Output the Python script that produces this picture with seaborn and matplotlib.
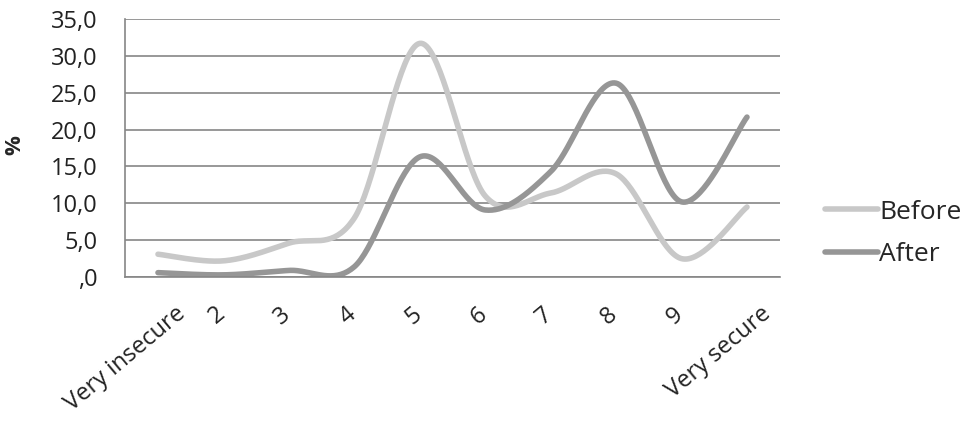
import matplotlib
matplotlib.use("Agg")
import matplotlib.pyplot as plt
import matplotlib.transforms as mtransforms
import numpy as np
import pandas as pd
import seaborn as sns

categories = ["Very insecure", "2", "3", "4", "5", "6", "7", "8", "9", "Very secure"]
before = [3.1, 2.2, 4.6, 8.0, 31.7, 11.0, 11.4, 14.0, 2.5, 9.5]
after = [0.6, 0.3, 0.9, 1.4, 16.3, 9.1, 14.3, 26.3, 10.2, 21.7]


def smooth(ys, n=40):
    # Excel-style smoothed line: bezier segments with catmull-rom tangents
    pts = np.column_stack([np.arange(len(ys)), ys]).astype(float)
    ext = np.vstack([pts[0], pts, pts[-1]])
    out = []
    for i in range(len(pts) - 1):
        p0, p1, p2, p3 = ext[i], ext[i + 1], ext[i + 2], ext[i + 3]
        c1 = p1 + (p2 - p0) / 6
        c2 = p2 - (p3 - p1) / 6
        t = np.linspace(0, 1, n)[:, None]
        seg = (1 - t) ** 3 * p1 + 3 * (1 - t) ** 2 * t * c1 + 3 * (1 - t) * t ** 2 * c2 + t ** 3 * p2
        out.append(seg if i == 0 else seg[1:])
    return np.vstack(out)


rows = []
for name, vals in [("Before", before), ("After", after)]:
    s = smooth(vals)
    rows.append(pd.DataFrame({"x": s[:, 0], "y": s[:, 1], "series": name}))
df = pd.concat(rows, ignore_index=True)

sns.set_style("white")
plt.rcParams["font.family"] = ["Open Sans", "DejaVu Sans"]

fig, ax = plt.subplots(figsize=(9.71, 4.23), dpi=100)
fig.subplots_adjust(left=0.129, right=0.803, top=0.955, bottom=0.345)

ax.set_axisbelow(True)
ax.yaxis.grid(True, color="#868686", linewidth=1.2)
sns.lineplot(data=df, x="x", y="y", hue="series", sort=False, estimator=None,
             palette={"Before": "#c8c8c8", "After": "#969696"},
             linewidth=4, solid_capstyle="round", ax=ax)

ax.set_xlim(-0.5, 9.5)
ax.set_ylim(0, 35)
ax.set_yticks(np.arange(0, 36, 5))
ax.set_yticklabels([f"{v:.1f}".replace(".", ",").lstrip("0") for v in np.arange(0, 36, 5)],
                   fontsize=17, color="#222222")
ax.set_xticks(range(len(categories)))
ax.set_xticklabels(categories, rotation=40, ha="right", va="top",
                   fontsize=17, color="#222222")
ax.tick_params(axis="y", length=0, pad=20)
ax.tick_params(axis="x", length=0, pad=18)

for side in ["top", "right"]:
    ax.spines[side].set_visible(False)
for side in ["left", "bottom"]:
    ax.spines[side].set_color("#868686")
    ax.spines[side].set_linewidth(1.2)

ax.set_xlabel("")
ax.set_ylabel("%", fontsize=16, fontweight="bold")
ax.yaxis.set_label_coords(-0.152, 0.51)

handles, labels = ax.get_legend_handles_labels()
ax.legend(handles, labels, loc="center left", bbox_to_anchor=(1.069, 0.17),
          frameon=False, fontsize=19, handlelength=2.0, handletextpad=0.05,
          borderpad=0, borderaxespad=0, labelspacing=0.65)

# Excel puts rotated labels so their right end sits past the tick by ~1/4 of the width
fig.canvas.draw()
for lab in ax.get_xticklabels():
    w = lab.get_window_extent().width
    lab.set_transform(lab.get_transform() + mtransforms.ScaledTranslation(w / 4 / fig.dpi, 0, fig.dpi_scale_trans))

plt.savefig("out.png", dpi=100)
